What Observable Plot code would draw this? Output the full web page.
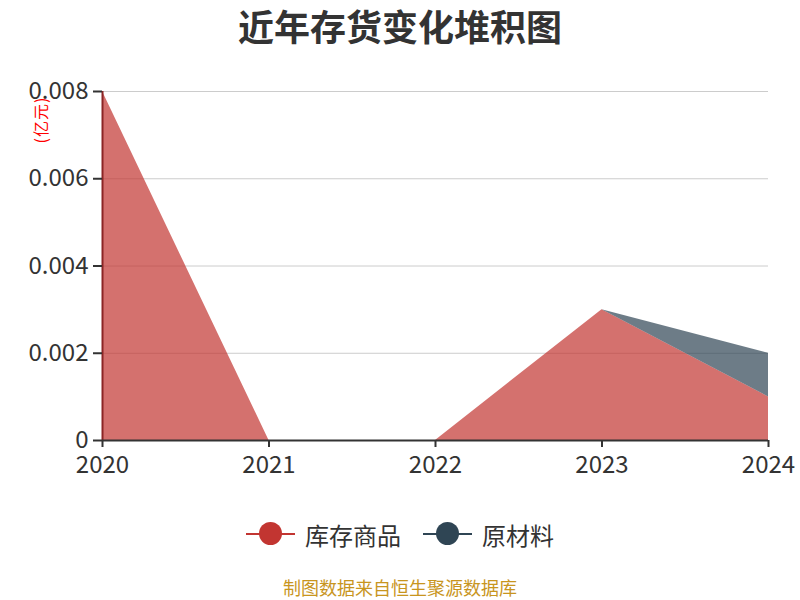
<!DOCTYPE html>
<html>
<head>
<meta charset="utf-8">
<script src="https://cdn.jsdelivr.net/npm/d3@7"></script>
<script src="https://cdn.jsdelivr.net/npm/@observablehq/plot@0.6"></script>
<style>
  html, body { margin: 0; padding: 0; background: #fff; }
  body { width: 800px; height: 600px; position: relative; overflow: hidden; font-family: "Noto Sans CJK SC", "Noto Sans", sans-serif; }
  #chart { position: absolute; left: 0; top: 0; }
  .title { position: absolute; left: 0; width: 800px; top: 5px; text-align: center; font-size: 36px; font-weight: bold; color: #333; line-height: 40px; }
  .unit { position: absolute; left: 40px; top: 120px; font-size: 16px; letter-spacing: 1px; color: #f00; line-height: 16px; white-space: nowrap; transform: translate(-50%, -50%) rotate(-90deg); }
  .legend { position: absolute; top: 517px; left: 0; width: 800px; height: 34px; }
  .item { position: absolute; top: 0; height: 34px; display: flex; align-items: center; font-size: 24px; color: #333; }
  .sym { position: relative; width: 49px; height: 34px; margin-right: 10px; }
  .sym .ln { position: absolute; left: 0; top: 16px; width: 49px; height: 2px; }
  .sym .dot { position: absolute; left: 13px; top: 5px; width: 23px; height: 23px; border-radius: 50%; }
  .caption { position: absolute; left: 0; width: 800px; top: 577px; text-align: center; font-size: 18px; color: #c8951e; line-height: 20px; }
</style>
</head>
<body>
<div id="chart"></div>
<div class="title">近年存货变化堆积图</div>
<div class="unit">(亿元)</div>
<div class="legend" id="legend"></div>
<div class="caption">制图数据来自恒生聚源数据库</div>
<script>
const years = [2020, 2021, 2022, 2023, 2024];
const seriesNames = ["库存商品", "原材料"];
const kucun = [0.008, 0, 0, 0.003, 0.001];
const yuancailiao = [0, 0, 0, 0, 0.001];
const yTicks = [0, 0.002, 0.004, 0.006, 0.008];
const colors = ["#c23531", "#2f4554"];

const seriesValues = [kucun, yuancailiao];
const data = [];
seriesNames.forEach((s, i) => years.forEach((y, j) => data.push({year: y, series: s, order: i, value: seriesValues[i][j]})));

const plot = Plot.plot({
  width: 800,
  height: 600,
  marginTop: 91,
  marginRight: 32,
  marginBottom: 160,
  marginLeft: 102,
  style: {fontSize: "24px", fontFamily: "'Noto Sans CJK SC', 'Noto Sans', sans-serif", color: "#333", background: "transparent"},
  x: {domain: [2020, 2024]},
  y: {domain: [0, 0.008]},
  color: {domain: seriesNames, range: colors},
  marks: [
    Plot.gridY(yTicks, {stroke: "#ccc", strokeOpacity: 1, strokeWidth: 1}),
    Plot.areaY(data, Plot.stackY({x: "year", y: "value", z: "series", fill: "series", order: seriesNames, fillOpacity: 0.7, curve: "linear"})),
    Plot.ruleX([2020], {stroke: "#8b2525", strokeWidth: 2}),
    Plot.ruleY([0], {stroke: "#333", strokeWidth: 2}),
    Plot.axisY(yTicks, {tickSize: 9, tickPadding: 5, stroke: "#333", strokeWidth: 2, fill: "#333", fontSize: 24, label: null,
      tickFormat: d => d === 0 ? "0" : d.toFixed(3)}),
    Plot.axisX(years, {tickSize: 7, tickPadding: 8, stroke: "#333", strokeWidth: 2, fill: "#333", fontSize: 24, label: null,
      tickFormat: d => String(d)})
  ]
});
document.getElementById("chart").appendChild(plot);

const legend = document.getElementById("legend");
const lefts = [246, 423];
seriesNames.forEach((s, i) => {
  const it = document.createElement("div");
  it.className = "item";
  it.style.left = lefts[i] + "px";
  it.innerHTML = `<div class="sym"><div class="ln" style="background:${colors[i]}"></div><div class="dot" style="background:${colors[i]}"></div></div><span>${s}</span>`;
  legend.appendChild(it);
});
</script>
</body>
</html>
